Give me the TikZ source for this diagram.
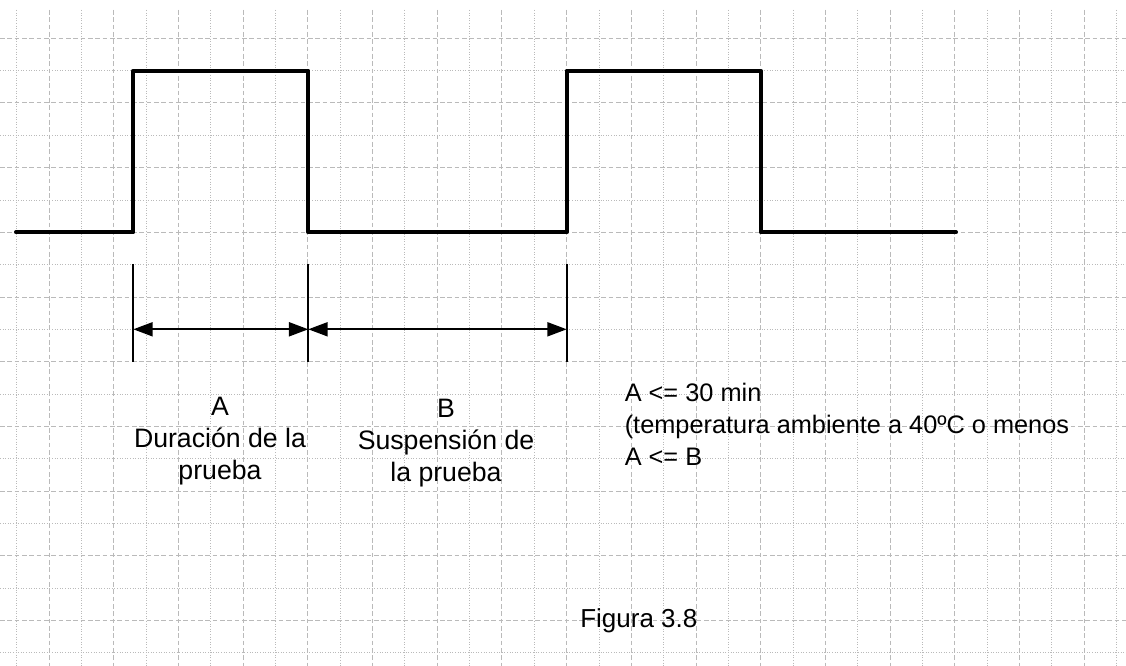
\documentclass[tikz,border=0pt]{standalone}
\usepackage{fontspec}
\setmainfont{Liberation Sans}
\usetikzlibrary{arrows.meta}
\begin{document}
\begin{tikzpicture}[x=0.75pt,y=-0.75pt,
  griddash/.style={draw=black!27,line width=0.75pt,dash pattern=on 3.6pt off 1.9pt},
  griddot/.style={draw=black!27,line width=0.75pt,dash pattern=on 0.75pt off 1.2pt},
  signal/.style={line width=3pt,line join=round,line cap=round},
  marker/.style={line width=1.4pt},
  dim/.style={line width=1.4pt,{Triangle[length=14.5pt,width=10.5pt]}-{Triangle[length=14.5pt,width=10.5pt]}},
  lbl/.style={inner sep=0pt},
  abfont/.style={font=\fontsize{20}{24}\selectfont},
  rtfont/.style={font=\fontsize{19}{24}\selectfont},
  fgfont/.style={font=\fontsize{19.5}{24}\selectfont}]
\useasboundingbox (0,0) rectangle (1126,666);
\fill[white] (0,0) rectangle (1126,666);
% grid
\foreach \k in {0,...,19}{
  \pgfmathsetmacro{\yy}{38.3+32.35*\k}
  \ifodd\k
    \draw[griddot] (0,\yy) -- (1126,\yy);
  \else
    \draw[griddash] (0,\yy) -- (1126,\yy);
  \fi
}
\foreach \k in {0,...,34}{
  \pgfmathsetmacro{\xx}{16.7+32.35*\k}
  \ifodd\k
    \draw[griddash] (\xx,10) -- (\xx,666);
  \else
    \draw[griddot] (\xx,10) -- (\xx,666);
  \fi
}
% signal points
\coordinate (s0) at (16,232.3);
\coordinate (r1l) at (133.3,232.3);
\coordinate (r1h) at (133.3,70.7);
\coordinate (f1h) at (308.3,70.7);
\coordinate (f1l) at (308.3,232.3);
\coordinate (r2l) at (566.7,232.3);
\coordinate (r2h) at (566.7,70.7);
\coordinate (f2h) at (760.7,70.7);
\coordinate (f2l) at (760.7,232.3);
\coordinate (s1) at (956,232.3);
\draw[signal] (s0) -- (r1l) -- (r1h) -- (f1h) -- (f1l) -- (r2l) -- (r2h) -- (f2h) -- (f2l) -- (s1);
% markers
\coordinate (m1t) at (133.3,264);
\coordinate (m1b) at (133.3,361.7);
\coordinate (m2t) at (308.3,264);
\coordinate (m2b) at (308.3,361.7);
\coordinate (m3t) at (566.7,264);
\coordinate (m3b) at (566.7,361.7);
\draw[marker] (m1t) -- (m1b);
\draw[marker] (m2t) -- (m2b);
\draw[marker] (m3t) -- (m3b);
\coordinate (a1) at (133.3,329.3);
\coordinate (a2) at (308.3,329.3);
\coordinate (a3) at (566.7,329.3);
\draw[dim] (a1) -- (a2);
\draw[dim] (a2) -- (a3);
% labels
\node[lbl,abfont,anchor=north,align=center] (ta) at (220,396.5) {A\\Duración de la\\prueba};
\node[lbl,abfont,anchor=north,align=center] (tb) at (446,399) {B\\Suspensión de\\la prueba};
\node[lbl,rtfont,anchor=north west,align=left] (tc) at (624.5,383) {A <= 30 min\\(temperatura ambiente a 40ºC o menos\\A <= B};
\node[lbl,fgfont,anchor=north west] (fig) at (580,608) {Figura 3.8};
\end{tikzpicture}
\end{document}
